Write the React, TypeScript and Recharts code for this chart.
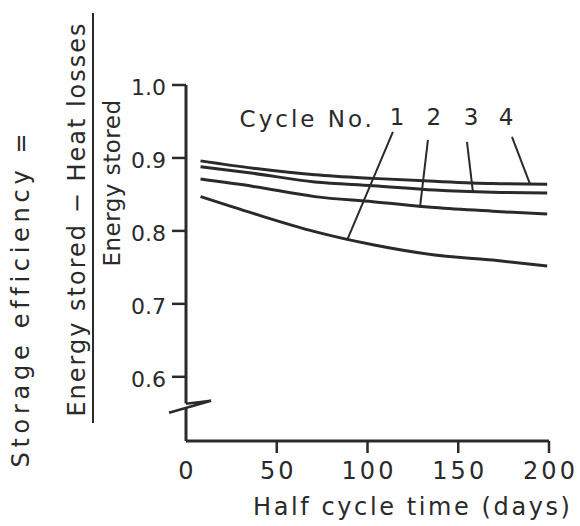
import { LineChart, Line, XAxis, YAxis, ReferenceLine, ReferenceDot } from 'recharts';

const DAYS = [8, 37, 71, 103, 137, 169, 199];
const CYCLE_1 = [0.847, 0.824, 0.799, 0.781, 0.767, 0.76, 0.752];
const CYCLE_2 = [0.871, 0.861, 0.847, 0.84, 0.832, 0.827, 0.823];
const CYCLE_3 = [0.888, 0.879, 0.867, 0.862, 0.856, 0.853, 0.852];
const CYCLE_4 = [0.896, 0.886, 0.877, 0.872, 0.868, 0.865, 0.864];

const X_TICKS = [0, 50, 100, 150, 200];
const Y_TICKS = [0.6, 0.7, 0.8, 0.9, 1.0];
const Y_MIN = 0.512;
const Y_BREAK = 0.5575;

// "Cycle No. 1 2 3 4" annotation, in data units
const CYCLE_NAMES = ['1', '2', '3', '4'];
const CYCLE_NAME_DAYS = [116.3, 136.6, 157.0, 176.3];
const CYCLE_NAME_EFF = 0.9452;
const CAPTION_DAY = 104.1;
const CAPTION_EFF = 0.9425;
// leader line ends: from below the number down to its curve
const LEADER_TOP_DAYS = [114.0, 133.3, 154.8, 179.6];
const LEADER_TOP_EFF = [0.9356, 0.9247, 0.9219, 0.9288];
const LEADER_END_DAYS = [88.7, 128.9, 158.1, 189.5];
const LEADER_END_EFF = [0.787, 0.832, 0.853, 0.8644];

const INK = '#2a2a2a';
const FONT = '"DejaVu Sans", sans-serif';

const rows = DAYS.map((day, i) => ({
  day,
  c1: CYCLE_1[i],
  c2: CYCLE_2[i],
  c3: CYCLE_3[i],
  c4: CYCLE_4[i],
}));

const XTick = ({ x, y, payload }: any) => (
  <g>
    {payload.value !== 0 && (
      <line x1={x} x2={x} y1={y} y2={y + 12} stroke={INK} strokeWidth={2.5} />
    )}
    <text
      x={x + 1.5}
      y={y + 38}
      textAnchor="middle"
      fontFamily={FONT}
      fontSize={24}
      letterSpacing={3}
      fill={INK}
    >
      {payload.value}
    </text>
  </g>
);

const YTick = ({ x, y, payload }: any) => (
  <g>
    <line x1={x - 14} x2={x} y1={y} y2={y} stroke={INK} strokeWidth={2.5} />
    <text
      x={x - 20}
      y={y + 10}
      textAnchor="end"
      fontFamily={FONT}
      fontSize={22}
      fill={INK}
    >
      {payload.value.toFixed(1)}
    </text>
  </g>
);

const yTitle = () => (
  <g fill={INK} fontFamily={FONT}>
    <text
      x={29}
      y={298}
      textAnchor="middle"
      fontSize={24}
      letterSpacing={4.7}
      transform="rotate(-90, 29, 298)"
    >
      Storage efficiency =
    </text>
    <text
      x={85}
      y={219}
      textAnchor="middle"
      fontSize={24}
      letterSpacing={2}
      transform="rotate(-90, 85, 219)"
    >
      Energy stored − Heat losses
    </text>
    <line x1={93} x2={93} y1={13} y2={423} stroke={INK} strokeWidth={2} />
    <text
      x={120}
      y={183}
      textAnchor="middle"
      fontSize={23}
      letterSpacing={0.5}
      transform="rotate(-90, 120, 183)"
    >
      Energy stored
    </text>
  </g>
);

const xTitle = () => (
  <text x={253} y={515} fontFamily={FONT} fontSize={24} letterSpacing={2.6} fill={INK}>
    Half cycle time (days)
  </text>
);

export default function App() {
  return (
    <div style={{ position: 'absolute', left: 0, top: 0, background: '#fff' }}>
      <LineChart width={580} height={526} data={rows} margin={{ top: 85, right: 31, bottom: 0, left: 0 }}>
        <XAxis
          dataKey="day"
          type="number"
          domain={[0, 200]}
          ticks={X_TICKS}
          height={85}
          tickSize={0}
          tickMargin={0}
          tickLine={false}
          axisLine={{ stroke: INK, strokeWidth: 3 }}
          tick={XTick}
          label={xTitle}
        />
        <YAxis
          type="number"
          domain={[Y_MIN, 1]}
          ticks={Y_TICKS}
          allowDataOverflow
          width={186}
          tickSize={0}
          tickMargin={0}
          tickLine={false}
          axisLine={false}
          tick={YTick}
          label={yTitle}
        />

        {/* y axis drawn in two parts round the break */}
        <ReferenceLine
          segment={[{ x: 0, y: 1 }, { x: 0, y: Y_BREAK + 0.006 }]}
          stroke={INK}
          strokeWidth={3}
          ifOverflow="visible"
        />
        <ReferenceLine
          segment={[{ x: 0, y: Y_BREAK }, { x: 0, y: Y_MIN }]}
          stroke={INK}
          strokeWidth={3}
          ifOverflow="visible"
        />
        <ReferenceDot
          x={0}
          y={Y_BREAK}
          ifOverflow="visible"
          shape={({ cx, cy }: any) => (
            <path
              d={`M${cx},${cy - 4} L${cx + 25},${cy - 7} L${cx - 17},${cy + 5}`}
              fill="none"
              stroke={INK}
              strokeWidth={2.5}
              strokeLinejoin="miter"
            />
          )}
        />

        <Line type="monotone" dataKey="c1" stroke={INK} strokeWidth={3} dot={false} isAnimationActive={false} />
        <Line type="monotone" dataKey="c2" stroke={INK} strokeWidth={3} dot={false} isAnimationActive={false} />
        <Line type="monotone" dataKey="c3" stroke={INK} strokeWidth={3} dot={false} isAnimationActive={false} />
        <Line type="monotone" dataKey="c4" stroke={INK} strokeWidth={3} dot={false} isAnimationActive={false} />

        {LEADER_TOP_DAYS.map((d, i) => (
          <ReferenceLine
            key={`lead${i}`}
            segment={[
              { x: d, y: LEADER_TOP_EFF[i] },
              { x: LEADER_END_DAYS[i], y: LEADER_END_EFF[i] },
            ]}
            stroke={INK}
            strokeWidth={2}
          />
        ))}

        <ReferenceDot
          x={CAPTION_DAY}
          y={CAPTION_EFF}
          shape={({ cx, cy }: any) => (
            <text x={cx} y={cy} textAnchor="end" fontFamily={FONT} fontSize={23} letterSpacing={3} fill={INK}>
              Cycle No.
            </text>
          )}
        />
        {CYCLE_NAMES.map((name, i) => (
          <ReferenceDot
            key={`name${i}`}
            x={CYCLE_NAME_DAYS[i]}
            y={CYCLE_NAME_EFF}
            shape={({ cx, cy }: any) => (
              <text x={cx} y={cy} textAnchor="middle" fontFamily={FONT} fontSize={23} fill={INK}>
                {name}
              </text>
            )}
          />
        ))}
      </LineChart>
    </div>
  );
}
